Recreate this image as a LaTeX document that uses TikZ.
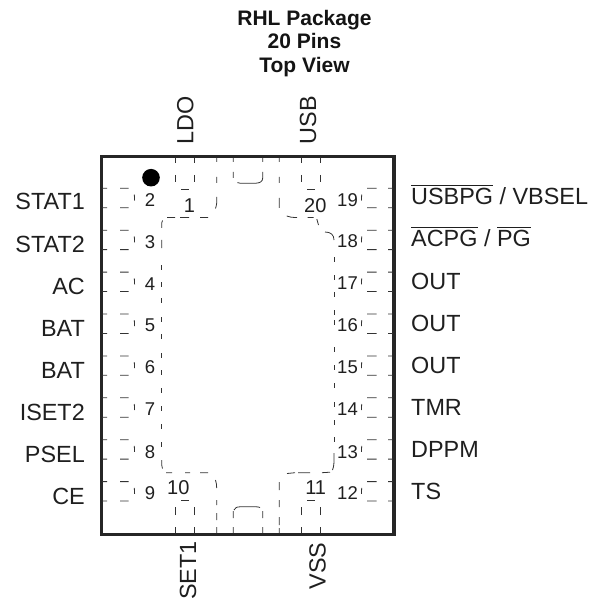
\documentclass[tikz,border=0pt]{standalone}
\usepackage{fontspec}
\setmainfont{Liberation Sans}
\newcommand\ovl[1]{\leavevmode\vbox{\hrule height1.2pt \kern2.4pt \hbox{#1}}}
\tikzset{
  pkg/.style={line width=3.2pt,line join=miter,draw=black!85},
  fine/.style={line width=0.8pt,draw=black!80},
  lbl/.style={inner sep=0,font=\fontsize{23.4}{26}\selectfont,text=black!88},
  num/.style={inner sep=0,font=\fontsize{18.5}{20}\selectfont,text=black!88},
  numb/.style={inner sep=0,font=\fontsize{20}{22}\selectfont,text=black!88},
  ttl/.style={inner sep=0,font=\bfseries\fontsize{21}{23.8}\selectfont,text=black!92,align=center,anchor=center},
  lft/.style={lbl,anchor=base east},
  rgt/.style={lbl,anchor=base west},
  rotu/.style={lbl,rotate=90,anchor=base west},
  rotd/.style={lbl,rotate=90,anchor=base east}
}
\begin{document}
\begin{tikzpicture}[x=1pt,y=-1pt]
\useasboundingbox (0,0) rectangle (592,601);
\node[ttl] (title) at (304.5,43.5) {RHL Package\\20 Pins\\Top View};
\draw[pkg] (101.7,156.7) rectangle (394,534.3);
\fill[black] (151,177.7) circle (8.8);
% left and right pads
\foreach \k in {0,...,7}{
  \pgfmathsetmacro{\ya}{198+41.9*\k}
  \draw[fine] (102,\ya-9.7) -- (107,\ya-9.7) (120,\ya-9.7) -- (128.5,\ya-9.7)
    (134.3,\ya-3.5) -- (134.6,\ya+2.5)
    (120,\ya+9.7) -- (128.5,\ya+9.7) (102,\ya+9.7) -- (107,\ya+9.7);
  \draw[fine] (393,\ya-9.7) -- (388,\ya-9.7) (376.6,\ya-9.7) -- (367,\ya-9.7)
    (361.7,\ya-3.5) -- (361.4,\ya+2.5)
    (376.6,\ya+9.7) -- (367,\ya+9.7) (393,\ya+9.7) -- (388,\ya+9.7);
}
% top and bottom pins
\foreach \x in {175,301}{
  \draw[fine] (\x,158) -- (\x,162.7) (\x+19.5,158) -- (\x+19.5,162.7)
    (\x,175) -- (\x,182) (\x+19.5,175) -- (\x+19.5,182)
    (\x+6,189.3) -- (\x+14,189.3);
  \draw[fine] (\x,533) -- (\x,527) (\x+19.5,533) -- (\x+19.5,527)
    (\x,515) -- (\x,507) (\x+19.5,515) -- (\x+19.5,507)
    (\x+6,500.3) -- (\x+14,500.3);
}
% centre tabs
\draw[fine] (233.3,158) -- (233.3,162) (262.7,158) -- (262.7,162)
  (233.3,172) -- (233.3,178) (262.7,172) -- (262.7,178)
  (237.5,182.6) .. controls (238.5,183) and (239,183.2) .. (240,183.2) -- (256,183.2)
    .. controls (260,183) and (262.7,181.5) .. (262.7,178);
\draw[fine] (233.3,533) -- (233.3,527) (262.7,533) -- (262.7,527)
  (233.3,518) -- (233.3,511) (262.7,518) -- (262.7,511)
  (234,510) .. controls (235,508) and (236.5,506.8) .. (240,506.8) -- (256,506.8)
    .. controls (258,506.8) and (259,507) .. (260,507.6);
% thermal pad, upper left
\draw[fine] (216.7,158) -- (216.7,162) (216.7,177) -- (216.7,183)
  (216.7,197) -- (216.7,203) .. controls (216.5,205) and (216,207) .. (215.5,208.5)
  (208,217.5) -- (200,217.5) (189,217.5) -- (180,217.5) (175,217.5) -- (167,217.5)
  (161.7,228) -- (161.7,223) .. controls (161.8,222) and (162,221) .. (162.5,220.5)
  (161.7,240) -- (161.7,248);
% thermal pad, upper right
\draw[fine] (279.3,158) -- (279.3,162) (279.3,177) -- (279.3,183)
  (279.3,198) -- (279.3,208)
  (286.7,216) .. controls (289,217) and (292,217.5) .. (297,217.5)
  (307.7,217.5) -- (313.7,217.5)
  (316.8,219) -- (318.5,225)
  (325,232) .. controls (331,232) and (334,235) .. (334,240);
% thermal pad, long sides
\foreach \y in {265,282,298,317,334,353,370,388,406,424,442}{
  \draw[fine] (161.7,\y) -- (161.7,\y+5);
}
\foreach \y in {257,275,292,310,320,347,365,383,402,420,437}{
  \draw[fine] (334,\y) -- (334,\y+5);
}
% thermal pad, lower left
\draw[fine] (161.7,460) -- (161.7,465) .. controls (162,467) and (162.5,468) .. (162.5,468.5)
  (166,472.7) -- (172,472.7)
  (185,472.7) -- (190,472.7) (200,472.7) -- (208,472.7)
  (215.5,480) .. controls (216.3,483) and (216.7,485) .. (216.7,488)
  (216.7,500) -- (216.7,505) (216.7,513) -- (216.7,520) (216.7,527) -- (216.7,533);
% thermal pad, lower right
\draw[fine] (334,453) -- (334,462) .. controls (333.8,466) and (333,469) .. (332.5,470)
  (330,472.2) -- (322,472.7) (310,472.7) -- (298,472.7) (295,472.7) -- (287,473.5)
  (279.3,482) -- (279.3,490)
  (279.3,500) -- (279.3,507) (279.3,517) -- (279.3,525) (279.3,528) -- (279.3,533);
% pin numbers
\foreach \n/\x/\y in {2/150/200,3/150/241.7,4/150/283.7,5/150/325.5,6/150/367.5,7/150/409.5,8/150/451.7,9/150/493.5,
  19/347.5/200,18/347.5/241,17/347.5/283,16/347.5/325.5,15/347.5/367.5,14/347.5/409.5,13/347.5/451.7,12/347.5/493.5}{
  \node[num] (n\n) at (\x,\y) {\n};
}
\foreach \n/\x/\y in {1/189.5/205.5,20/315.3/205.5,10/178.3/488,11/315.7/488}{
  \node[numb] (n\n) at (\x,\y) {\n};
}
% left labels
\foreach \i/\t/\y in {a/STAT1/210,b/STAT2/252.1,c/AC/294.2,d/BAT/336.3,e/BAT/378.4,f/ISET2/420.5,g/PSEL/462.6,h/CE/504.7}{
  \node[lft] (L\i) at (85,\y) {\t};
}
% right labels
\node[rgt] (R19) at (411,205) {\ovl{USBPG} / VBSEL};
\node[rgt] (R18) at (411,247) {\ovl{ACPG} / \ovl{PG}};
\foreach \i/\t/\y in {17/OUT/289.1,16/OUT/331.1,15/OUT/373.1,14/TMR/415.2,13/DPPM/457.2,12/TS/499.3}{
  \node[rgt] (R\i) at (411,\y) {\t};
}
% rotated labels
\node[rotu] (LDO) at (193.3,144.5) {LDO};
\node[rotu] (USB) at (316,144.5) {USB};
\node[rotd] (SET1) at (196,541) {SET1};
\node[rotd] (VSS) at (325.7,542.5) {VSS};
\end{tikzpicture}
\end{document}
